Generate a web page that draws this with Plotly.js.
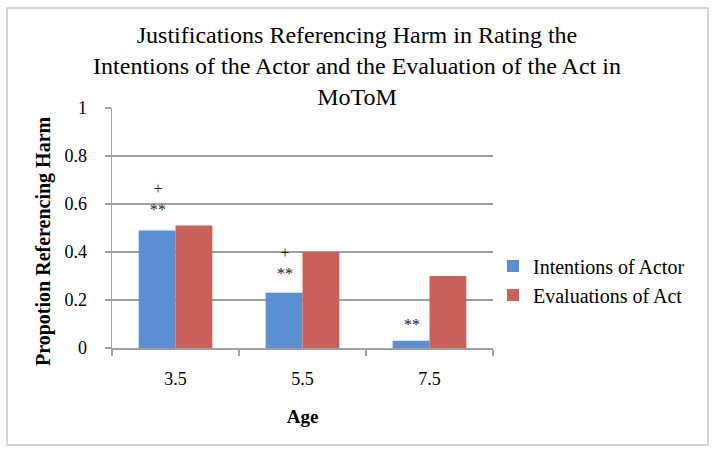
<!DOCTYPE html>
<html>
<head>
<meta charset="utf-8">
<script src="https://cdn.plot.ly/plotly-3.0.1.min.js"></script>
<style>
  html, body { margin: 0; padding: 0; background: #ffffff; }
  #chart { width: 714px; height: 452px; }
</style>
</head>
<body>
<div id="chart"></div>
<script>
// ---- data ----
const ages = ['3.5', '5.5', '7.5'];
const seriesNames = ['Intentions of Actor', 'Evaluations of Act'];
const intentions = [0.49, 0.23, 0.03];
const evaluations = [0.51, 0.40, 0.30];
const yTickVals = [0, 0.2, 0.4, 0.6, 0.8, 1];
const yTickText = ['0', '0.2', '0.4', '0.6', '0.8', '1'];
// significance marks above the intentions bars
const markText = ['+<br>**', '+<br>**', '**'];
const markCat = ['3.5', '5.5', '7.5'];
const markY = [0.535, 0.265, 0.055];

const serif = 'Liberation Serif, DejaVu Serif, serif';
const blue = '#5b8fd1';
const red = '#c9605a';

const traces = [
  { type: 'bar', x: ages, y: intentions, name: seriesNames[0], legendgroup: 'a',
    marker: { color: blue }, hoverinfo: 'x+y' },
  { type: 'bar', x: ages, y: evaluations, name: seriesNames[1], legendgroup: 'b',
    marker: { color: red }, hoverinfo: 'x+y' }
];

// Plot area: x 112..493, y 108..348
const L = 112, R = 493, T = 108, B = 348;
const px = v => (v - L) / (R - L);
const py = v => (B - v) / (B - T);

const annotations = markText.map((t, i) => ({
  x: ages.indexOf(markCat[i]), y: markY[i], xref: 'x', yref: 'y', text: t, showarrow: false,
  xshift: -18, yanchor: 'bottom', align: 'center',
  font: { family: serif, size: 16, color: '#222222' }
}));
annotations.push({
  xref: 'paper', yref: 'paper', x: px(43), y: py(241), xanchor: 'center', yanchor: 'middle',
  text: '<b>Propotion Referencing Harm</b>', textangle: -90, showarrow: false,
  font: { family: serif, size: 20, color: '#000000' }
});

const layout = {
  width: 714, height: 452,
  margin: { l: L, r: 714 - R, t: T, b: 452 - B, pad: 0 },
  paper_bgcolor: '#ffffff', plot_bgcolor: '#ffffff',
  font: { family: serif, color: '#000000' },
  title: {
    text: 'Justifications Referencing Harm in Rating the<br>Intentions of the Actor and the Evaluation of the Act in<br>MoToM',
    font: { family: serif, size: 24, color: '#000000' },
    x: 0.5, xref: 'container', xanchor: 'center',
    y: 1 - 43 / 452, yref: 'container', yanchor: 'top'
  },
  barmode: 'group', bargap: 0.42, bargroupgap: 0,
  xaxis: {
    type: 'category',
    tickson: 'boundaries', ticks: 'outside', ticklen: 6, tickcolor: '#a0a0a0', tickwidth: 1.5,
    showline: true, linecolor: '#a0a0a0', linewidth: 1.5,
    showgrid: false, zeroline: false,
    tickfont: { family: serif, size: 18, color: '#000000' },
    ticklabelstandoff: 14,
    title: { text: '<b>Age</b>', font: { family: serif, size: 19, color: '#000000' }, standoff: 21 }
  },
  yaxis: {
    range: [0, 1], tickvals: yTickVals, ticktext: yTickText,
    ticks: 'outside', ticklen: 6, tickcolor: '#a0a0a0', tickwidth: 1.5,
    showline: true, linecolor: '#a0a0a0', linewidth: 1.5,
    showgrid: true, gridcolor: '#a0a0a0', gridwidth: 1.5, zeroline: false,
    tickfont: { family: serif, size: 18, color: '#000000' },
    ticklabelstandoff: 14
  },
  legend: {
    x: px(493), y: py(280.5), xanchor: 'left', yanchor: 'middle',
    font: { family: serif, size: 20, color: '#000000' },
    bgcolor: 'rgba(0,0,0,0)', tracegroupgap: 15, traceorder: 'normal',
    itemwidth: 30
  },
  annotations: annotations,
  shapes: [{
    type: 'rect', xref: 'paper', yref: 'paper', layer: 'below',
    x0: px(7), x1: px(708), y0: py(445), y1: py(8),
    line: { color: '#c8c8c8', width: 1.5 }, fillcolor: 'rgba(0,0,0,0)'
  }],
  showlegend: true
};

Plotly.newPlot('chart', traces, layout, { displayModeBar: false, staticPlot: true });
</script>
</body>
</html>
